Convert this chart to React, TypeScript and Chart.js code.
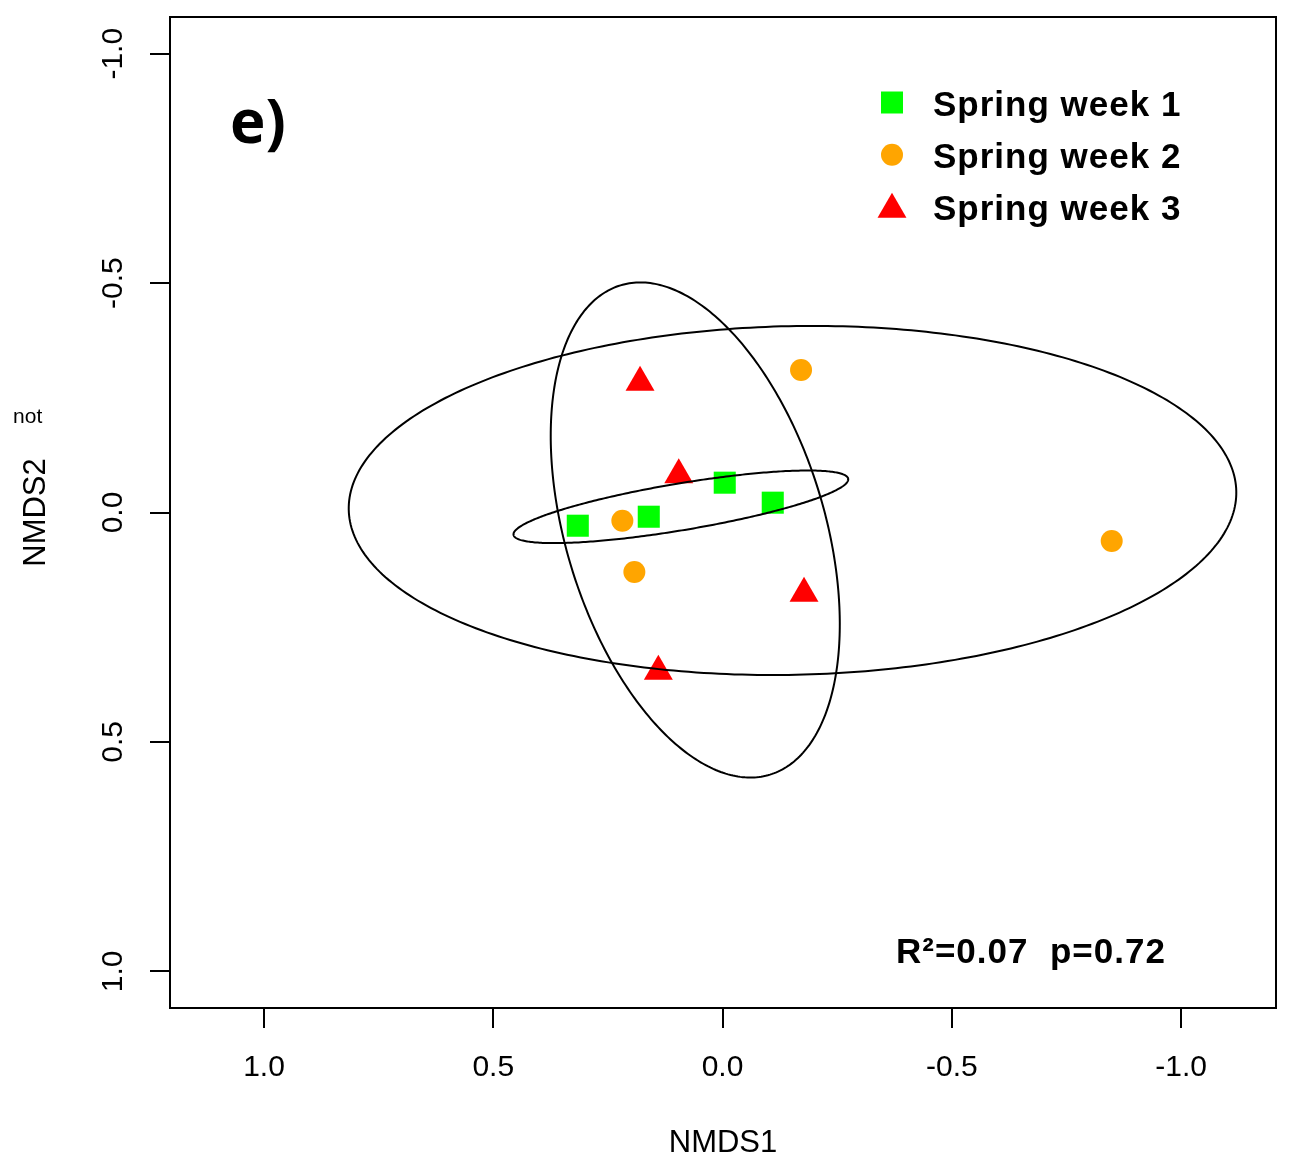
import React, { useEffect, useRef } from "react";
import { Chart, registerables } from "chart.js";

Chart.register(...registerables);

// ---- data ----
const SERIES_LABELS = ["Spring week 1", "Spring week 2", "Spring week 3"];
const WEEK1_X = [0.3157, 0.1609, -0.0048, -0.1095];
const WEEK1_Y = [0.0288, 0.0092, -0.065, -0.0214];
const WEEK2_X = [-0.1712, 0.2185, 0.1923, -0.8487];
const WEEK2_Y = [-0.3106, 0.0179, 0.1297, 0.0621];
const WEEK3_X = [0.1799, 0.0955, -0.1777, 0.14];
const WEEK3_Y = [-0.2834, -0.082, 0.1766, 0.3466];

const TICK_VALUES = [-1, -0.5, 0, 0.5, 1];
const X_MIN = -1.207;
const X_MAX = 1.205;
const Y_MIN = -1.08;
const Y_MAX = 1.08;

// ellipses (data units): centre, semi-axes, rotation
const ELLIPSE_CX = [-0.1526, 0.0595, 0.0909];
const ELLIPSE_CY = [-0.0262, 0.0381, -0.0124];
const ELLIPSE_A = [0.968, 0.5576, 0.37];
const ELLIPSE_B = [0.38, 0.2821, 0.051];
const ELLIPSE_ANGLE_DEG = [1.2, 107, 9.5];

const X_TITLE = "NMDS1";
const Y_TITLE = "NMDS2";
const PANEL_LABEL = "e)";
const STATS_TEXT = "R²=0.07  p=0.72";
const CLIPPED_TEXT = "s not";

const COLORS = ["#00FF00", "#FFA500", "#FF0000"];
const STYLES = ["rect", "circle", "triangle"];
const RADII = [15.6, 11, 16.7];

const FONT = '"Liberation Sans", Arial, Helvetica, sans-serif';

const toPoints = (xs: number[], ys: number[]) => xs.map((x, i) => ({ x, y: ys[i] }));

const setSpacing = (ctx: any, v: string) => {
  try {
    ctx.letterSpacing = v;
  } catch (e) {}
};

const boxPlugin = {
  id: "boxPlugin",
  afterDatasetsDraw(chart: any) {
    const { ctx, chartArea, scales } = chart;
    const xs = scales.x;
    const ys = scales.y;
    ctx.save();
    ctx.beginPath();
    ctx.rect(chartArea.left, chartArea.top, chartArea.right - chartArea.left, chartArea.bottom - chartArea.top);
    ctx.clip();
    ctx.strokeStyle = "#000";
    ctx.lineWidth = 2;
    for (let i = 0; i < ELLIPSE_CX.length; i++) {
      const th = (ELLIPSE_ANGLE_DEG[i] * Math.PI) / 180;
      const c = Math.cos(th);
      const s = Math.sin(th);
      ctx.beginPath();
      const n = 360;
      for (let k = 0; k <= n; k++) {
        const t = (k / n) * Math.PI * 2;
        const dx = ELLIPSE_A[i] * Math.cos(t);
        const dy = ELLIPSE_B[i] * Math.sin(t);
        const x = ELLIPSE_CX[i] + dx * c - dy * s;
        const y = ELLIPSE_CY[i] + dx * s + dy * c;
        const px = xs.getPixelForValue(x);
        const py = ys.getPixelForValue(y);
        if (k === 0) ctx.moveTo(px, py);
        else ctx.lineTo(px, py);
      }
      ctx.closePath();
      ctx.stroke();
    }
    ctx.restore();

    ctx.save();
    ctx.strokeStyle = "#000";
    ctx.lineWidth = 2;
    ctx.strokeRect(chartArea.left, chartArea.top, chartArea.right - chartArea.left, chartArea.bottom - chartArea.top);
    ctx.restore();
  },
  afterDraw(chart: any) {
    const { ctx } = chart;
    ctx.save();
    setSpacing(ctx, "0px");
    ctx.fillStyle = "#000";
    ctx.textBaseline = "alphabetic";

    // clipped text at the far left
    ctx.font = `21px ${FONT}`;
    ctx.textAlign = "left";
    ctx.fillText(CLIPPED_TEXT, -3.3, 423);

    // panel label
    ctx.font = `bold 60px "Open Sans", ${FONT}`;
    ctx.textAlign = "left";
    ctx.fillText(PANEL_LABEL, 230, 143);

    // legend
    ctx.font = `bold 35px ${FONT}`;
    setSpacing(ctx, "1px");
    const rowY = [115.5, 167.5, 219.5];
    const mk = [102.5, 154.7, 209.5];
    const mx = 892;
    for (let i = 0; i < SERIES_LABELS.length; i++) {
      ctx.fillStyle = "#000";
      ctx.fillText(SERIES_LABELS[i], 933, rowY[i]);
      ctx.fillStyle = COLORS[i];
      ctx.beginPath();
      if (STYLES[i] === "rect") {
        ctx.rect(mx - 11, mk[i] - 11, 22, 22);
      } else if (STYLES[i] === "circle") {
        ctx.arc(mx, mk[i], 11, 0, Math.PI * 2);
      } else {
        const r = RADII[2];
        ctx.moveTo(mx, mk[i] - r);
        ctx.lineTo(mx + r * Math.sin(Math.PI / 3), mk[i] + r / 2);
        ctx.lineTo(mx - r * Math.sin(Math.PI / 3), mk[i] + r / 2);
        ctx.closePath();
      }
      ctx.fill();
    }

    // statistics
    ctx.fillStyle = "#000";
    ctx.fillText(STATS_TEXT, 896, 963);
    setSpacing(ctx, "0px");
    ctx.restore();
  },
};

export default function App() {
  const ref = useRef<HTMLCanvasElement | null>(null);

  useEffect(() => {
    if (!ref.current) return;
    const datasets = [
      toPoints(WEEK1_X, WEEK1_Y),
      toPoints(WEEK2_X, WEEK2_Y),
      toPoints(WEEK3_X, WEEK3_Y),
    ].map((data, i) => ({
      label: SERIES_LABELS[i],
      data,
      pointStyle: STYLES[i],
      pointRadius: RADII[i],
      pointHoverRadius: RADII[i],
      backgroundColor: COLORS[i],
      borderColor: COLORS[i],
      borderWidth: 0,
      showLine: false,
    }));

    const tickFont = { family: FONT, size: 30 };
    const titleFont = { family: FONT, size: 31 };

    const chart = new Chart(ref.current, {
      type: "scatter",
      data: { datasets: datasets as any },
      options: {
        animation: false,
        responsive: false,
        maintainAspectRatio: false,
        events: [],
        layout: { autoPadding: false, padding: { top: 17, right: 17, left: 0, bottom: 0 } },
        plugins: {
          legend: { display: false },
          tooltip: { enabled: false },
          title: { display: false },
        },
        scales: {
          x: {
            type: "linear",
            position: "bottom",
            min: X_MIN,
            max: X_MAX,
            reverse: true,
            afterBuildTicks: (s: any) => {
              s.ticks = TICK_VALUES.map((v) => ({ value: v }));
            },
            afterFit: (s: any) => {
              s.height = 154;
              s.paddingLeft = 0;
              s.paddingRight = 0;
            },
            ticks: {
              callback: (v: any) => Number(v).toFixed(1),
              font: tickFont,
              color: "#000",
              padding: 22,
              maxRotation: 0,
              minRotation: 0,
              autoSkip: false,
            },
            grid: {
              drawOnChartArea: false,
              drawTicks: true,
              tickLength: 20,
              color: "#000",
              lineWidth: 2,
            },
            border: { display: false },
            title: {
              display: true,
              text: X_TITLE,
              font: titleFont,
              color: "#000",
              padding: { top: 0, bottom: 0 },
            },
          },
          y: {
            type: "linear",
            position: "left",
            min: Y_MIN,
            max: Y_MAX,
            reverse: true,
            afterBuildTicks: (s: any) => {
              s.ticks = TICK_VALUES.map((v) => ({ value: v }));
            },
            afterFit: (s: any) => {
              s.width = 170;
              s.paddingTop = 0;
              s.paddingBottom = 0;
            },
            ticks: {
              callback: (v: any) => Number(v).toFixed(1),
              font: tickFont,
              color: "#000",
              padding: 10,
              minRotation: 90,
              maxRotation: 90,
              crossAlign: "center",
              autoSkip: false,
            },
            grid: {
              drawOnChartArea: false,
              drawTicks: true,
              tickLength: 20,
              color: "#000",
              lineWidth: 2,
            },
            border: { display: false },
            title: {
              display: true,
              text: Y_TITLE,
              font: titleFont,
              color: "#000",
              padding: { top: 18, bottom: 0 },
            },
          },
        },
      } as any,
      plugins: [boxPlugin],
    });
    return () => chart.destroy();
  }, []);

  return (
    <canvas
      ref={ref}
      width={1293}
      height={1162}
      style={{ display: "block", margin: "-8px 0 0 -8px" }}
    />
  );
}
